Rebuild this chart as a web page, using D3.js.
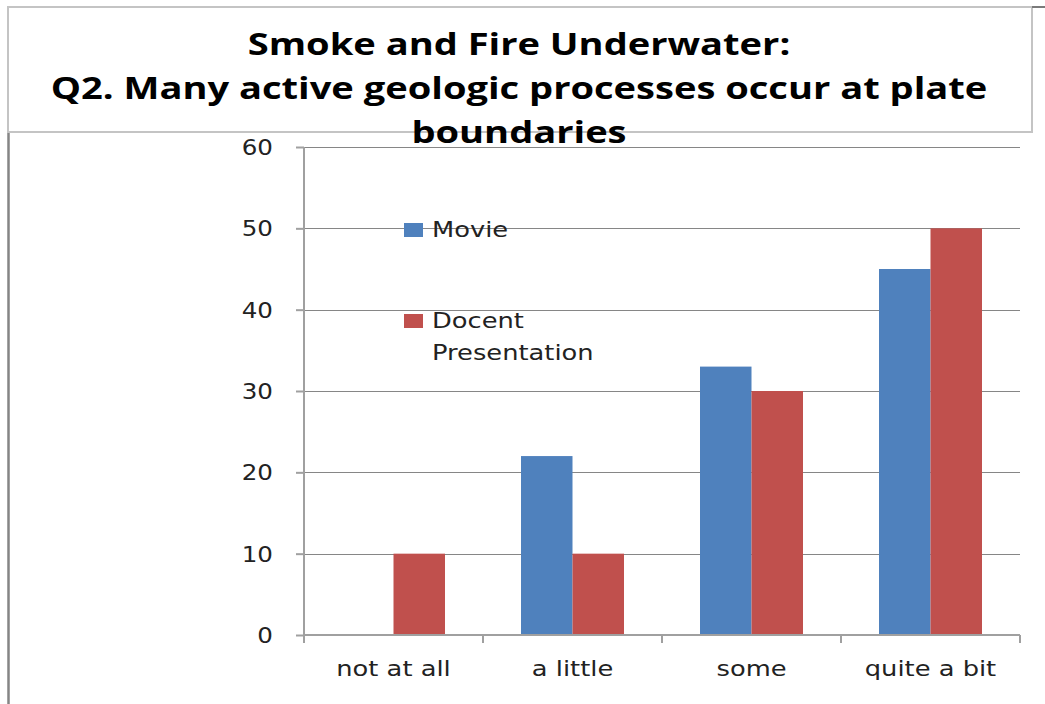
<!DOCTYPE html>
<html>
<head>
<meta charset="utf-8">
<script src="https://cdn.jsdelivr.net/npm/d3@7"></script>
<style>
  html, body { margin: 0; padding: 0; background: #fff; }
  svg { display: block; }
</style>
</head>
<body>
<svg id="chart" width="1045" height="704"></svg>
<script>
// Survey answers for question 2
const categories = ["not at all", "a little", "some", "quite a bit"];
const seriesNames = ["Movie", "Docent Presentation"];
const movieValues = [0, 22, 33, 45];
const docentValues = [10, 10, 30, 50];
const yTicks = [0, 10, 20, 30, 40, 50, 60];
const titleLines = [
  "Smoke and Fire Underwater:",
  "Q2. Many active geologic processes occur at plate",
  "boundaries"
];

const colors = ["#4F81BD", "#C0504D"];
const seriesValues = [movieValues, docentValues];
const sx = 1.17; // horizontal stretch applied to all lettering

const svg = d3.select("#chart");

// Frame pieces
svg.append("rect")
  .attr("x", 8).attr("y", 7).attr("width", 1024).attr("height", 125)
  .attr("fill", "#fff").attr("stroke", "#c4c4c4").attr("stroke-width", 2);
svg.append("line")
  .attr("x1", 1032).attr("x2", 1045).attr("y1", 7).attr("y2", 7)
  .attr("stroke", "#7a7a7a").attr("stroke-width", 2);
svg.append("line")
  .attr("x1", 8.5).attr("x2", 8.5).attr("y1", 133).attr("y2", 704)
  .attr("stroke", "#858585").attr("stroke-width", 2.5);

// Plot geometry
const plotLeft = 304, plotRight = 1020, plotTop = 147, plotBottom = 635;

const x = d3.scaleBand()
  .domain(categories)
  .range([plotLeft, plotRight])
  .paddingInner(0.4246)
  .paddingOuter(0.2123);

const xs = d3.scaleBand()
  .domain(seriesNames)
  .range([0, x.bandwidth()])
  .padding(0);

const y = d3.scaleLinear().domain([0, 60]).range([plotBottom, plotTop]);

// Gridlines
svg.append("g")
  .selectAll("line")
  .data(yTicks.filter(d => d > 0))
  .join("line")
  .attr("x1", plotLeft).attr("x2", plotRight)
  .attr("y1", d => Math.round(y(d)) + 0.5)
  .attr("y2", d => Math.round(y(d)) + 0.5)
  .attr("stroke", "#868686").attr("stroke-width", 1);

// Bars
const groups = svg.append("g")
  .selectAll("g")
  .data(categories)
  .join("g")
  .attr("transform", d => `translate(${x(d)},0)`);

groups.selectAll("rect")
  .data((c, i) => seriesNames.map((s, k) => ({ s, k, v: seriesValues[k][i] })))
  .join("rect")
  .attr("x", d => xs(d.s))
  .attr("width", xs.bandwidth())
  .attr("y", d => y(d.v))
  .attr("height", d => y(0) - y(d.v))
  .attr("fill", d => colors[d.k]);

// Y axis
const yAxis = svg.append("g")
  .attr("transform", `translate(${plotLeft},0)`)
  .call(d3.axisLeft(y).tickValues(yTicks).tickSize(8).tickSizeOuter(0).tickPadding(23));
yAxis.select(".domain")
  .attr("stroke", "#a0a0a0").attr("stroke-width", 2)
  .attr("d", `M0,${plotTop}V${plotBottom + 8}`);
yAxis.selectAll(".tick line").attr("stroke", "#a0a0a0").attr("stroke-width", 2);
yAxis.selectAll(".tick text")
  .attr("x", null)
  .attr("transform", `translate(-31,0) scale(${sx},1)`)
  .attr("dy", "0.36em")
  .attr("fill", "#222")
  .style("font-family", "'DejaVu Sans', Verdana, sans-serif")
  .style("font-size", "21px");

// X axis: baseline, boundary ticks, category labels
const xAxis = svg.append("g");
xAxis.append("line")
  .attr("x1", plotLeft).attr("x2", plotRight)
  .attr("y1", plotBottom).attr("y2", plotBottom)
  .attr("stroke", "#a0a0a0").attr("stroke-width", 2);
const boundaries = categories.map(c => x(c) - x.step() * x.paddingInner() / 2)
  .concat([plotRight]);
xAxis.selectAll("line.b")
  .data(boundaries.slice(1))
  .join("line")
  .attr("class", "b")
  .attr("x1", d => d).attr("x2", d => d)
  .attr("y1", plotBottom).attr("y2", plotBottom + 8)
  .attr("stroke", "#a0a0a0").attr("stroke-width", 2);
xAxis.selectAll("text")
  .data(categories)
  .join("text")
  .attr("transform", d => `translate(${x(d) + x.bandwidth() / 2},676) scale(${sx},1)`)
  .attr("text-anchor", "middle")
  .attr("fill", "#222")
  .style("font-family", "'DejaVu Sans', Verdana, sans-serif")
  .style("font-size", "22px")
  .text(d => d);

// Legend
const legendFont = "'DejaVu Sans', Verdana, sans-serif";
const legendRows = [
  { name: seriesNames[0], lines: ["Movie"], y: 237, color: colors[0] },
  { name: seriesNames[1], lines: ["Docent", "Presentation"], y: 328, color: colors[1] }
];
const lg = svg.append("g").selectAll("g").data(legendRows).join("g");
lg.append("rect")
  .attr("x", 404).attr("y", d => d.y - 14)
  .attr("width", 19).attr("height", 14)
  .attr("fill", d => d.color);
lg.each(function(d) {
  d3.select(this).selectAll("text")
    .data(d.lines)
    .join("text")
    .attr("transform", (t, i) => `translate(432,${d.y + i * 32}) scale(${sx},1)`)
    .attr("fill", "#222")
    .style("font-family", legendFont)
    .style("font-size", "22px")
    .text(t => t);
});

// Title
const title = svg.append("g")
  .selectAll("text")
  .data(titleLines)
  .join("text")
  .attr("text-anchor", "middle")
  .attr("fill", "#000")
  .style("font-family", "'Open Sans', 'DejaVu Sans', sans-serif")
  .style("font-weight", "bold")
  .style("font-size", "30px")
  .text(d => d);
// widen lettering so the long line spans its target width
const longW = title.filter((d, i) => i === 1).node().getComputedTextLength();
const tsx = 937 / longW;
title.attr("transform", (d, i) => `translate(519,${55 + i * 44}) scale(${tsx},1)`);
</script>
</body>
</html>
